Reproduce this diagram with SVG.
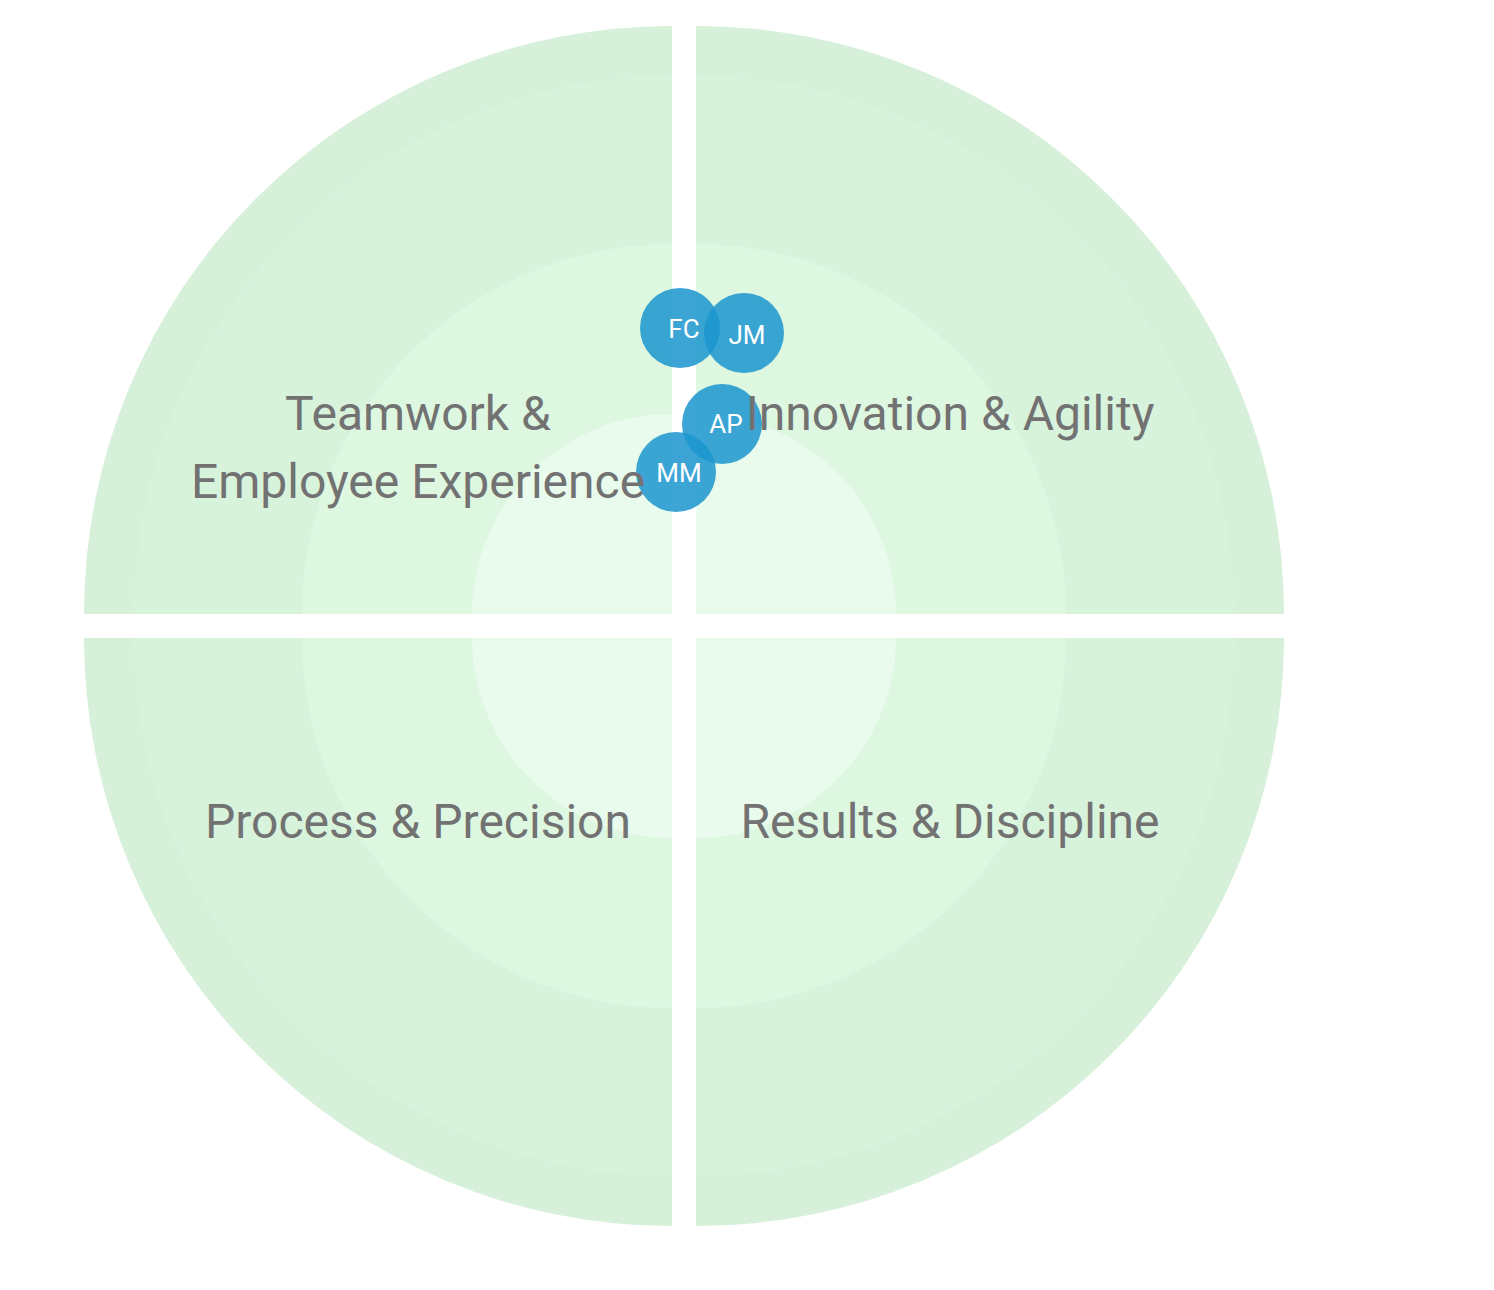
<svg xmlns="http://www.w3.org/2000/svg" width="1494" height="1290" viewBox="0 0 1494 1290">
<style>
.r1{fill:#d6f0d9}.r2{fill:#d8f3dc}.r3{fill:#ddf7e1}.r4{fill:#e8fbec}
.lbl{font-family:Roboto,"Liberation Sans",sans-serif;font-size:48px;fill:#727272;text-anchor:middle}
.bub circle{fill:#1b95cf;fill-opacity:0.85}
.bub text{font-family:Roboto,"Liberation Sans",sans-serif;font-size:26px;fill:#fff;text-anchor:middle}
</style>
<rect width="1494" height="1290" fill="#fff"/>
<g id="quadrant-tl">
<path class="r1" d="M672 614 L84 614 A588 588 0 0 1 672 26 Z"/>
<path class="r2" d="M672 614 L134 614 A538 538 0 0 1 672 76 Z"/>
<path class="r3" d="M672 614 L302 614 A370 370 0 0 1 672 244 Z"/>
<path class="r4" d="M672 614 L472 614 A200 200 0 0 1 672 414 Z"/>
</g>
<g id="quadrant-tr">
<path class="r1" d="M696 614 L696 26 A588 588 0 0 1 1284 614 Z"/>
<path class="r2" d="M696 614 L696 76 A538 538 0 0 1 1234 614 Z"/>
<path class="r3" d="M696 614 L696 244 A370 370 0 0 1 1066 614 Z"/>
<path class="r4" d="M696 614 L696 414 A200 200 0 0 1 896 614 Z"/>
</g>
<g id="quadrant-bl">
<path class="r1" d="M672 638 L672 1226 A588 588 0 0 1 84 638 Z"/>
<path class="r2" d="M672 638 L672 1176 A538 538 0 0 1 134 638 Z"/>
<path class="r3" d="M672 638 L672 1008 A370 370 0 0 1 302 638 Z"/>
<path class="r4" d="M672 638 L672 838 A200 200 0 0 1 472 638 Z"/>
</g>
<g id="quadrant-br">
<path class="r1" d="M696 638 L1284 638 A588 588 0 0 1 696 1226 Z"/>
<path class="r2" d="M696 638 L1234 638 A538 538 0 0 1 696 1176 Z"/>
<path class="r3" d="M696 638 L1066 638 A370 370 0 0 1 696 1008 Z"/>
<path class="r4" d="M696 638 L896 638 A200 200 0 0 1 696 838 Z"/>
</g>
<g id="connectors"></g>
<g id="bubble-fc" class="bub"><circle cx="680" cy="328" r="40"/><text x="684" y="338">FC</text></g>
<g id="bubble-jm" class="bub"><circle cx="744" cy="333" r="40"/><text x="747" y="344">JM</text></g>
<g id="bubble-ap" class="bub"><circle cx="722" cy="424" r="40"/><text x="726" y="433">AP</text></g>
<g id="bubble-mm" class="bub"><circle cx="676" cy="472" r="40"/><text x="679" y="482">MM</text></g>
<g id="label-tl"><text class="lbl" x="418" y="430">Teamwork &amp;</text><text class="lbl" x="418" y="498">Employee Experience</text></g>
<g id="label-tr"><text class="lbl" x="950" y="430">Innovation &amp; Agility</text></g>
<g id="label-bl"><text class="lbl" x="418" y="838">Process &amp; Precision</text></g>
<g id="label-br"><text class="lbl" x="950" y="838">Results &amp; Discipline</text></g>
</svg>
